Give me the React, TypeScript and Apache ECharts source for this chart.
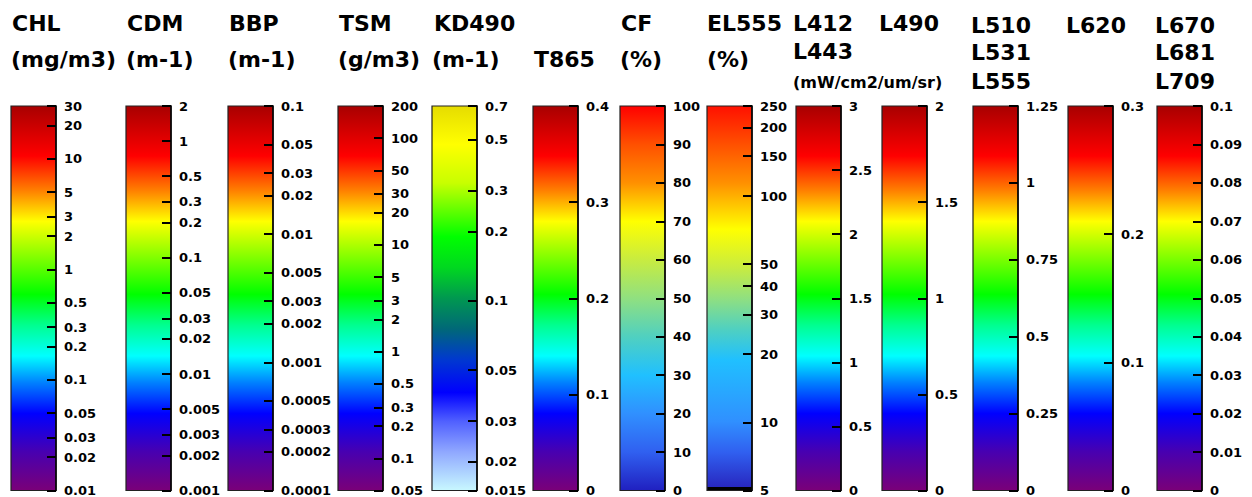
import React, { useEffect, useRef } from "react";
import * as echarts from "echarts";

// ---- data: colour-bar ranges and tick labels ----
const chlRange = [0.01, 30];
const chlTicks = ["0.01", "0.02", "0.03", "0.05", "0.1", "0.2", "0.3", "0.5", "1", "2", "3", "5", "10", "20", "30"];
const cdmRange = [0.001, 2];
const cdmTicks = ["0.001", "0.002", "0.003", "0.005", "0.01", "0.02", "0.03", "0.05", "0.1", "0.2", "0.3", "0.5", "1", "2"];
const bbpRange = [0.0001, 0.1];
const bbpTicks = ["0.0001", "0.0002", "0.0003", "0.0005", "0.001", "0.002", "0.003", "0.005", "0.01", "0.02", "0.03", "0.05", "0.1"];
const tsmRange = [0.05, 200];
const tsmTicks = ["0.05", "0.1", "0.2", "0.3", "0.5", "1", "2", "3", "5", "10", "20", "30", "50", "100", "200"];
const kdRange = [0.015, 0.7];
const kdTicks = ["0.015", "0.02", "0.03", "0.05", "0.1", "0.2", "0.3", "0.5", "0.7"];
const t865Range = [0, 0.4];
const t865Ticks = ["0", "0.1", "0.2", "0.3", "0.4"];
const cfRange = [0, 100];
const cfTicks = ["0", "10", "20", "30", "40", "50", "60", "70", "80", "90", "100"];
const elRange = [5, 250];
const elTicks = ["5", "10", "20", "30", "40", "50", "100", "150", "200", "250"];
const l412Range = [0, 3];
const l412Ticks = ["0", "0.5", "1", "1.5", "2", "2.5", "3"];
const l490Range = [0, 2];
const l490Ticks = ["0", "0.5", "1", "1.5", "2"];
const l510Range = [0, 1.25];
const l510Ticks = ["0", "0.25", "0.5", "0.75", "1", "1.25"];
const l620Range = [0, 0.3];
const l620Ticks = ["0", "0.1", "0.2", "0.3"];
const l670Range = [0, 0.1];
const l670Ticks = ["0", "0.01", "0.02", "0.03", "0.04", "0.05", "0.06", "0.07", "0.08", "0.09", "0.1"];

// ---- colour maps (top -> bottom) ----
const rainbow: [number, string][] = [
  [0, "#a80000"], [0.13, "#ff0000"], [0.22, "#ff8000"], [0.30, "#ffff00"],
  [0.49, "#00ff00"], [0.57, "#00ff90"], [0.65, "#00ffff"], [0.72, "#0080ff"],
  [0.80, "#0000ff"], [0.90, "#4800b0"], [1, "#7a0078"],
];
const kdMap: [number, string][] = [
  [0, "#e6dc00"], [0.1, "#ffff00"], [0.2, "#c8ff00"], [0.34, "#00ff00"],
  [0.42, "#00d820"], [0.5, "#009850"], [0.58, "#006878"], [0.66, "#0038d0"],
  [0.745, "#0000ff"], [0.82, "#5060ff"], [0.9, "#90a8ff"], [1, "#c8f8ff"],
];
const cfMap: [number, string][] = [
  [0, "#ff0000"], [0.1, "#ff5000"], [0.2, "#ff9000"], [0.3, "#ffff00"],
  [0.4, "#c8ec40"], [0.5, "#90e080"], [0.6, "#50d0c0"], [0.7, "#20c0ff"],
  [0.8, "#3090ff"], [0.9, "#3060f0"], [1, "#2020c0"],
];
const elMap: [number, string][] = [
  [0, "#ff1000"], [0.1, "#ff5000"], [0.2, "#ff9000"], [0.32, "#ffff00"],
  [0.42, "#c8ec40"], [0.5, "#90e080"], [0.58, "#50d0c0"], [0.66, "#20c0ff"],
  [0.82, "#3090ff"], [0.9, "#3060f0"], [0.99, "#2828c0"], [0.992, "#000000"], [1, "#000000"],
];

type Bar = { x: number; log: boolean; range: number[]; ticks: string[]; cmap: [number, string][] };
const BARS: Bar[] = [
  { x: 11, log: true, range: chlRange, ticks: chlTicks, cmap: rainbow },
  { x: 126, log: true, range: cdmRange, ticks: cdmTicks, cmap: rainbow },
  { x: 228, log: true, range: bbpRange, ticks: bbpTicks, cmap: rainbow },
  { x: 338, log: true, range: tsmRange, ticks: tsmTicks, cmap: rainbow },
  { x: 432, log: true, range: kdRange, ticks: kdTicks, cmap: kdMap },
  { x: 533, log: false, range: t865Range, ticks: t865Ticks, cmap: rainbow },
  { x: 620, log: false, range: cfRange, ticks: cfTicks, cmap: cfMap },
  { x: 707, log: true, range: elRange, ticks: elTicks, cmap: elMap },
  { x: 796, log: false, range: l412Range, ticks: l412Ticks, cmap: rainbow },
  { x: 882, log: false, range: l490Range, ticks: l490Ticks, cmap: rainbow },
  { x: 973, log: false, range: l510Range, ticks: l510Ticks, cmap: rainbow },
  { x: 1068, log: false, range: l620Range, ticks: l620Ticks, cmap: rainbow },
  { x: 1157, log: false, range: l670Range, ticks: l670Ticks, cmap: rainbow },
];

const TITLES: { text: string; x: number; y: number; size: number }[] = [
  { text: "CHL", x: 12, y: 23, size: 22 }, { text: "(mg/m3)", x: 11, y: 59, size: 22 },
  { text: "CDM", x: 127, y: 23, size: 22 }, { text: "(m-1)", x: 126, y: 59, size: 22 },
  { text: "BBP", x: 229, y: 23, size: 22 }, { text: "(m-1)", x: 228, y: 59, size: 22 },
  { text: "TSM", x: 339, y: 23, size: 22 }, { text: "(g/m3)", x: 338, y: 59, size: 22 },
  { text: "KD490", x: 434, y: 23, size: 22 }, { text: "(m-1)", x: 432, y: 59, size: 22 },
  { text: "T865", x: 534, y: 59, size: 22 },
  { text: "CF", x: 621, y: 23, size: 22 }, { text: "(%)", x: 620, y: 59, size: 22 },
  { text: "EL555", x: 707, y: 23, size: 22 }, { text: "(%)", x: 707, y: 59, size: 22 },
  { text: "L412", x: 793, y: 23, size: 22 }, { text: "L443", x: 793, y: 51, size: 22 },
  { text: "(mW/cm2/um/sr)", x: 793, y: 82, size: 16 },
  { text: "L490", x: 879, y: 23, size: 22 },
  { text: "L510", x: 971, y: 25, size: 22 }, { text: "L531", x: 971, y: 52, size: 22 }, { text: "L555", x: 971, y: 81, size: 22 },
  { text: "L620", x: 1066, y: 25, size: 22 },
  { text: "L670", x: 1155, y: 25, size: 22 }, { text: "L681", x: 1155, y: 52, size: 22 }, { text: "L709", x: 1155, y: 81, size: 22 },
];

const FONT = '"DejaVu Sans", "Liberation Sans", sans-serif';
const TOP = 106;
const HEIGHT = 385;
const WIDTH = 45;

export default function App() {
  const ref = useRef<HTMLDivElement>(null);
  useEffect(() => {
    if (!ref.current) return;
    const chart = echarts.init(ref.current, undefined, { renderer: "svg" });
    const grid: any[] = [];
    const xAxis: any[] = [];
    const yAxis: any[] = [];
    const series: any[] = [];
    BARS.forEach((b, i) => {
      const tf = (v: number) => (b.log ? Math.log10(v) : v);
      const vals = b.ticks.map((t) => tf(Number(t)));
      const lo = tf(b.range[0]);
      const hi = tf(b.range[1]);
      grid.push({ left: b.x, top: TOP, width: WIDTH, height: HEIGHT, containLabel: false });
      xAxis.push({ type: "value", gridIndex: i, min: 0, max: 1, show: false });
      yAxis.push({
        type: "value",
        gridIndex: i,
        min: lo,
        max: hi,
        position: "right",
        z: 10,
        splitLine: { show: false },
        axisLine: { show: true, onZero: false, lineStyle: { color: "#000", width: 1.5 } },
        axisTick: { show: true, inside: true, length: 9, customValues: vals, lineStyle: { color: "#000", width: 2 } },
        axisLabel: {
          show: true,
          customValues: vals,
          margin: 8,
          color: "#000",
          fontFamily: FONT,
          fontWeight: "bold",
          fontSize: 13,
          formatter: (v: number) => {
            let best = 0;
            for (let k = 1; k < vals.length; k++) if (Math.abs(vals[k] - v) < Math.abs(vals[best] - v)) best = k;
            return b.ticks[best];
          },
        },
      });
      const grad = new echarts.graphic.LinearGradient(0, 0, 0, 1, b.cmap.map(([o, c]) => ({ offset: o, color: c })));
      series.push({
        type: "custom",
        xAxisIndex: i,
        yAxisIndex: i,
        silent: true,
        z: 1,
        data: [[0, lo, hi]],
        renderItem: (params: any, api: any) => {
          const p0 = api.coord([0, api.value(1)]);
          const p1 = api.coord([1, api.value(2)]);
          return {
            type: "rect",
            shape: { x: p0[0], y: p1[1], width: p1[0] - p0[0], height: p0[1] - p1[1] },
            style: { fill: grad, stroke: "#222", lineWidth: 1.2 },
          };
        },
      });
    });
    chart.setOption({
      animation: false,
      backgroundColor: "#fff",
      grid,
      xAxis,
      yAxis,
      series,
      graphic: TITLES.map((t) => ({
        type: "text",
        x: t.x,
        y: t.y,
        style: {
          text: t.text,
          fill: "#000",
          font: `bold ${t.size}px ${FONT}`,
          align: "left",
          verticalAlign: "middle",
        },
      })),
    });
    return () => chart.dispose();
  }, []);
  return (
    <div
      ref={ref}
      style={{ position: "fixed", left: 0, top: 0, width: 1252, height: 497, background: "#fff" }}
    />
  );
}
